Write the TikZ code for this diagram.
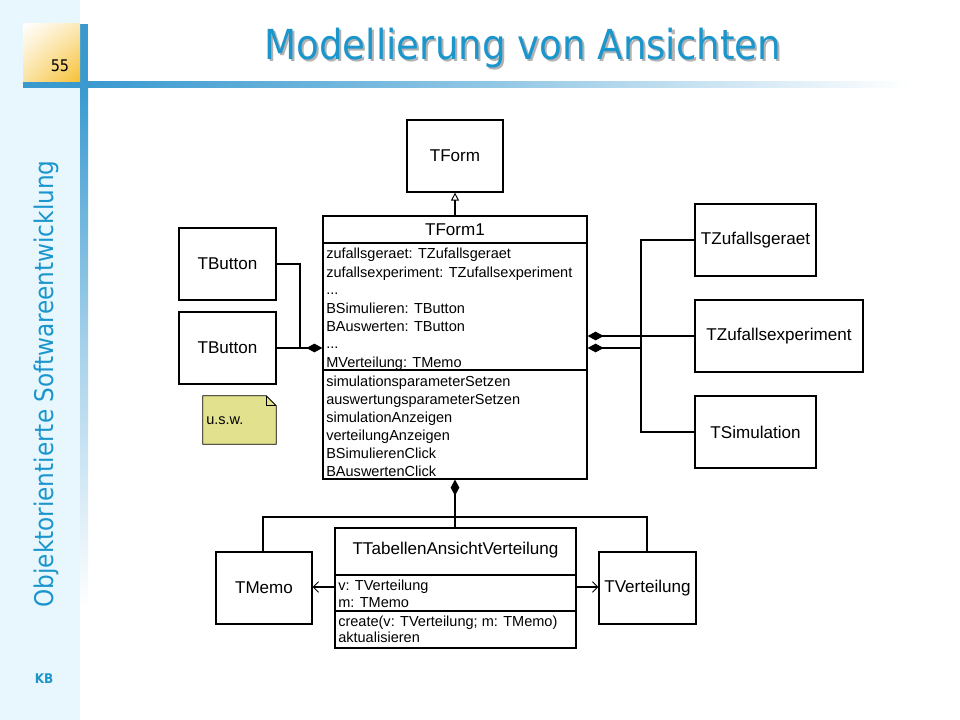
\documentclass[tikz,border=0pt]{standalone}
\usepackage{fontspec}
\setmainfont{Liberation Sans}
\newfontfamily\slidefont{DejaVu Sans Condensed}
\usetikzlibrary{arrows.meta,calc,shadings}
\definecolor{slideblue}{HTML}{1A96CD}
\definecolor{barblue}{HTML}{3A9AD0}
\definecolor{sidebg}{HTML}{E8F6FD}
\definecolor{notefill}{HTML}{E2E18E}
\definecolor{numgold}{HTML}{F6C033}
\begin{document}
\begin{tikzpicture}[x=0.75pt,y=-0.75pt,
  box/.style={draw, line width=0.9pt, inner sep=0pt, fill=white},
  cname/.style={font=\fontsize{12.8}{15}\selectfont},
  member/.style={font=\fontsize{10.9}{13}\selectfont, inner sep=0pt, anchor=base west},
  conn/.style={line width=0.9pt},
  comp/.style={conn, {Diamond[length=12pt,width=6.5pt]}-},
  nav/.style={conn, -{Straight Barb[length=4pt,width=8pt,line width=0.7pt]}},
  inh/.style={conn, -{Triangle[open,length=6pt,width=6pt,line width=0.7pt]}}
]
\useasboundingbox (0,0) rectangle (960,720);
% slide background
\fill[white] (0,0) rectangle (960,720);
\fill[sidebg] (0,0) rectangle (80,720);
\fill[barblue] (80,24) rectangle (88,88);
\shade[top color=barblue, bottom color=white, middle color=barblue!45] (80,88) rectangle (88,610);
\shade[left color=barblue, right color=white, middle color=barblue!55] (88,82) rectangle (910,88);
\fill[barblue] (23,82) rectangle (88,88);
\shade[upper left=white, upper right=numgold!35, lower left=numgold!45, lower right=numgold] (23,24) rectangle (80,82);
\node[font=\slidefont\fontsize{12}{14}\selectfont, anchor=base] (pagenum) at (60,72) {55};
\node[font=\slidefont\fontsize{31}{36}\selectfont, text=black!30, anchor=base] (titleshadow) at (525,62) {Modellierung von Ansichten};
\node[font=\slidefont\fontsize{31}{36}\selectfont, text=slideblue, anchor=base] (title) at (523,60) {Modellierung von Ansichten};
\node[font=\slidefont\fontsize{19.3}{23}\selectfont, text=slideblue, rotate=90, anchor=base] (sidetext) at (53,384) {Objektorientierte Softwareentwicklung};
\node[font=\slidefont\bfseries\fontsize{10}{12}\selectfont, text=slideblue] (kb) at (44,679) {KB};

% classes
\node[box, cname, minimum width=72pt, minimum height=54pt] (tform) at (455,156) {TForm};
\node[box, minimum width=198pt, minimum height=197.25pt] (tform1) at (455,347.5) {};
\node[cname] (tform1name) at (455,229.5) {TForm1};
\draw[line width=0.8pt] (tform1.west |- 0,243) -- (tform1.east |- 0,243);
\draw[line width=0.8pt] (tform1.west |- 0,370) -- (tform1.east |- 0,370);
\node[member] (fa1) at (326,259) {zufallsgeraet: TZufallsgeraet};
\node[member] (fa2) at (326,277) {zufallsexperiment: TZufallsexperiment};
\node[member] (fa3) at (326,295) {...};
\node[member] (fa4) at (326,313) {BSimulieren: TButton};
\node[member] (fa5) at (326,331) {BAuswerten: TButton};
\node[member] (fa6) at (326,349) {...};
\node[member] (fa7) at (326,367) {MVerteilung: TMemo};
\node[member] (fm1) at (326,386) {simulationsparameterSetzen};
\node[member] (fm2) at (326,404) {auswertungsparameterSetzen};
\node[member] (fm3) at (326,422) {simulationAnzeigen};
\node[member] (fm4) at (326,440) {verteilungAnzeigen};
\node[member] (fm5) at (326,458) {BSimulierenClick};
\node[member] (fm6) at (326,476) {BAuswertenClick};

\node[box, cname, minimum width=72.75pt, minimum height=54pt] (tbutton1) at (227.5,264) {TButton};
\node[box, cname, minimum width=72.75pt, minimum height=54pt] (tbutton2) at (227.5,348) {TButton};

% note
\node[inner sep=0pt, minimum width=54.75pt, minimum height=36pt] (note) at (239.5,420) {};
\filldraw[fill=notefill, line width=0.7pt] (note.north west) -- ($(note.north east)+(-10,0)$) -- ($(note.north east)+(0,10)$) -- (note.south east) -- (note.south west) -- cycle;
\draw[line width=0.7pt] ($(note.north east)+(-10,0)$) -- ($(note.north east)+(-10,10)$) -- ($(note.north east)+(0,10)$);
\node[font=\fontsize{10.9}{13}\selectfont, anchor=west, inner sep=0pt] (notetext) at (206,421) {u.s.w.};

\node[box, cname, minimum width=90.75pt, minimum height=54pt] (tzger) at (755.5,240) {TZufallsgeraet};
\node[box, cname, minimum width=126pt, minimum height=54pt] (tzexp) at (779,336) {TZufallsexperiment};
\node[box, cname, minimum width=90.75pt, minimum height=54pt] (tsim) at (755.5,432) {TSimulation};

\node[box, minimum width=180.75pt, minimum height=90pt] (ttab) at (455.5,588) {};
\node[cname] (ttabname) at (455.5,550) {TTabellenAnsichtVerteilung};
\draw[line width=0.8pt] (ttab.west |- 0,575) -- (ttab.east |- 0,575);
\draw[line width=0.8pt] (ttab.west |- 0,611) -- (ttab.east |- 0,611);
\node[member] (ta1) at (338,590) {v: TVerteilung};
\node[member] (ta2) at (338,607) {m: TMemo};
\node[member] (tm1) at (338,626) {create(v: TVerteilung; m: TMemo)};
\node[member] (tm2) at (338,642) {aktualisieren};

\node[box, cname, minimum width=72pt, minimum height=54pt] (tmemo) at (264,588) {TMemo};
\node[box, cname, minimum width=72.75pt, minimum height=54pt] (tvert) at (647.5,588) {TVerteilung};

% connectors
\draw[inh] (tform1.north) -- (tform.south);

\coordinate (jl) at (300,348);
\draw[comp] (tform1.west |- jl) -- (tbutton2.east |- jl);
\draw[conn] (tbutton1.east) -| (jl);

\coordinate (jr) at (641,348);
\draw[comp] (tform1.east |- tzexp) -- (tzexp.west);
\draw[comp] (tform1.east |- jr) -- (jr);
\draw[conn] (tzger.west) -| (jr);
\draw[conn] (jr) |- (tsim.west);

\coordinate (jb) at (455,517);
\draw[comp] (tform1.south) -- (jb);
\draw[conn] (jb) -- (ttab.north -| jb);
\draw[conn] (tmemo.north -| 263,0) |- (jb);
\draw[conn] (jb) -| (tvert.north -| 647,0);

\draw[nav] (ttab.west |- 0,587) -- (tmemo.east |- 0,587);
\draw[nav] (ttab.east |- 0,587) -- (tvert.west |- 0,587);
\end{tikzpicture}
\end{document}
